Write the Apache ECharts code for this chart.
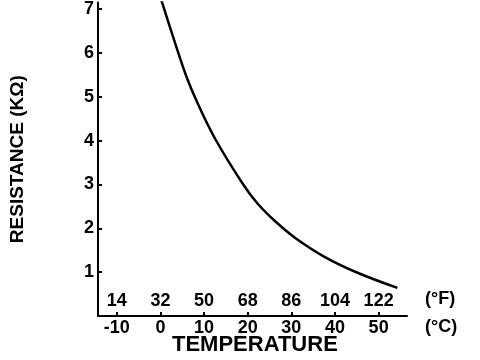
<!DOCTYPE html>
<html>
<head>
<meta charset="utf-8">
<script src="https://cdn.jsdelivr.net/npm/echarts@6/dist/echarts.min.js"></script>
<style>html,body{margin:0;padding:0;background:#fff;}#c{width:480px;height:360px;}</style>
</head>
<body>
<div id="c"></div>
<script>
// Data
var tempC = [-0.5, 0.38, 3.8, 6.0, 8.3, 12.6, 18.9, 22.3, 26.3, 30.9, 37.6, 45.3, 54.3];
var resistance = [7.45, 7.15, 6.09, 5.45, 4.9, 4.03, 3.01, 2.56, 2.16, 1.78, 1.35, 0.98, 0.64];
var celsiusTicks = [-10, 0, 10, 20, 30, 40, 50];
var fahrenheitTicks = [14, 32, 50, 68, 86, 104, 122];
var resistanceTicks = [1, 2, 3, 4, 5, 6, 7];

var FONT = '"Liberation Sans", Arial, sans-serif';
var chart = echarts.init(document.getElementById('c'), null, {renderer: 'canvas'});
var pts = tempC.map(function (t, i) { return [t, resistance[i]]; });
var xMin = -14.3, xMax = 56.5;

chart.setOption({
  animation: false,
  backgroundColor: '#fff',
  grid: {left: 93, right: 73, top: 0, bottom: 44, containLabel: false},
  xAxis: [{
    type: 'value', min: xMin, max: xMax, position: 'bottom',
    axisLine: {show: true, onZero: false, lineStyle: {color: '#000', width: 2}},
    axisTick: {show: true, inside: true, length: 4, lineStyle: {color: '#000', width: 2}, customValues: celsiusTicks},
    axisLabel: {show: true, margin: 3, color: '#000', fontFamily: FONT, fontWeight: 'bold', fontSize: 18,
      customValues: celsiusTicks},
    splitLine: {show: false}
  }, {
    type: 'value', min: xMin, max: xMax, position: 'bottom', offset: 0,
    axisLine: {show: false, onZero: false},
    axisTick: {show: false},
    axisLabel: {show: true, inside: true, margin: 6, color: '#000', fontFamily: FONT, fontWeight: 'bold', fontSize: 18,
      customValues: celsiusTicks,
      formatter: function (v) { var i = celsiusTicks.indexOf(v); return i >= 0 ? String(fahrenheitTicks[i]) : ''; }},
    splitLine: {show: false}
  }],
  yAxis: {
    type: 'value', min: 0, max: 7.15,
    name: 'RESISTANCE (KΩ)', nameLocation: 'middle', nameGap: 71,
    nameTextStyle: {color: '#000', fontFamily: FONT, fontWeight: 'bold', fontSize: 19},
    axisLine: {show: true, onZero: false, lineStyle: {color: '#000', width: 2}},
    axisTick: {show: true, inside: true, length: 4, lineStyle: {color: '#000', width: 2}, customValues: resistanceTicks},
    axisLabel: {show: true, margin: 4, color: '#000', fontFamily: FONT, fontWeight: 'bold', fontSize: 18,
      customValues: resistanceTicks},
    splitLine: {show: false}
  },
  graphic: [{
    type: 'text', left: 172, top: 334,
    style: {text: 'TEMPERATURE', fill: '#000', font: 'bold 22px ' + FONT}
  }, {
    type: 'text', left: 425, top: 290,
    style: {text: '(°F)', fill: '#000', font: 'bold 18px ' + FONT}
  }, {
    type: 'text', left: 425, top: 318,
    style: {text: '(°C)', fill: '#000', font: 'bold 18px ' + FONT}
  }],
  series: [{
    type: 'line', xAxisIndex: 0, data: pts, smooth: 0.35, showSymbol: false, clip: true,
    lineStyle: {color: '#000', width: 2.5}
  }]
});
</script>
</body>
</html>
